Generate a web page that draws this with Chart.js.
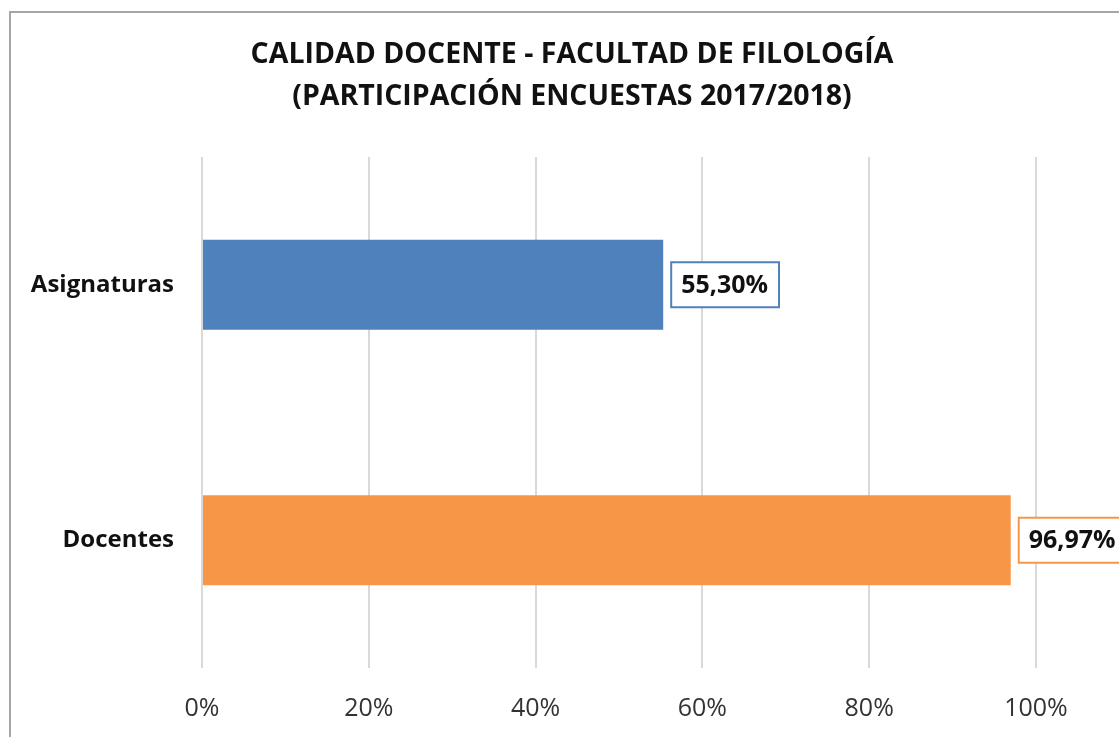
<!DOCTYPE html>
<html>
<head>
<meta charset="utf-8">
<script src="https://cdn.jsdelivr.net/npm/chart.js@4"></script>
<style>
  html, body { margin: 0; padding: 0; background: #fff; overflow: hidden; }
  #wrap { position: relative; width: 1119px; height: 737px; }
  #frame { position: absolute; left: 9px; top: 11px; width: 1200px; height: 800px; border: 2px solid #a6a6a6; box-sizing: border-box; pointer-events: none; }
</style>
</head>
<body>
<div id="wrap">
  <canvas id="chart" width="1119" height="737"></canvas>
  <div id="frame"></div>
</div>
<script>
// data
const categories = ['Asignaturas', 'Docentes'];
const participation = [0.553, 0.9697];
const barColors = ['#4f81bd', '#f79646'];
const titleLines = ['CALIDAD DOCENTE - FACULTAD DE FILOLOGÍA', '(PARTICIPACIÓN ENCUESTAS 2017/2018)'];

const FONT = "'Open Sans', 'Noto Sans', sans-serif";

function pct(v, dec) {
    return (v * 100).toFixed(dec).replace('.', ',') + '%';
}

// title centred on the whole frame, not just the plot box
const frameTitle = {
    id: 'frameTitle',
    afterDraw(chart) {
        const ctx = chart.ctx;
        ctx.save();
        ctx.font = 'bold 28.5px ' + FONT;
        ctx.fillStyle = '#111';
        ctx.textAlign = 'center';
        ctx.textBaseline = 'middle';
        titleLines.forEach((t, i) => ctx.fillText(t, 572, 55 + i * 42));
        ctx.restore();
    }
};

// boxed value labels next to each bar
const boxLabels = {
    id: 'boxLabels',
    afterDatasetsDraw(chart) {
        const ctx = chart.ctx;
        const meta = chart.getDatasetMeta(0);
        ctx.save();
        ctx.font = 'bold 25px ' + FONT;
        ctx.textBaseline = 'middle';
        meta.data.forEach((bar, i) => {
            const txt = pct(participation[i], 2);
            const w = ctx.measureText(txt).width + 21;
            const h = 45;
            const x = bar.x + 8;
            const y = bar.y - h / 2;
            ctx.fillStyle = '#fff';
            ctx.fillRect(x, y, w, h);
            ctx.strokeStyle = barColors[i];
            ctx.lineWidth = 2;
            ctx.strokeRect(x, y, w, h);
            ctx.fillStyle = '#111';
            ctx.textAlign = 'left';
            ctx.fillText(txt, x + 10, bar.y + 1);
        });
        ctx.restore();
    }
};

new Chart(document.getElementById('chart'), {
    type: 'bar',
    data: {
        labels: categories,
        datasets: [{
            data: participation,
            backgroundColor: barColors,
            barPercentage: 0.352,
            categoryPercentage: 1
        }]
    },
    options: {
        indexAxis: 'y',
        responsive: false,
        animation: false,
        layout: { padding: { top: 157, right: 83, bottom: 13, left: 0 } },
        plugins: {
            legend: { display: false },
            tooltip: { enabled: false },
            title: { display: false }
        },
        scales: {
            x: {
                min: 0,
                max: 1,
                ticks: {
                    stepSize: 0.2,
                    padding: 26,
                    color: '#333',
                    font: { family: FONT, size: 25 },
                    callback: v => Math.round(v * 100) + '%'
                },
                grid: { color: '#d9d9d9', lineWidth: 2, drawTicks: false },
                border: { display: false },
                afterFit(scale) { scale.height = 56; }
            },
            y: {
                ticks: {
                    padding: 28,
                    color: '#111',
                    font: { family: FONT, size: 24, weight: 'bold' }
                },
                grid: { display: false, drawTicks: false },
                border: { display: false },
                afterFit(scale) { scale.width = 202; }
            }
        }
    },
    plugins: [boxLabels, frameTitle]
});
</script>
</body>
</html>
